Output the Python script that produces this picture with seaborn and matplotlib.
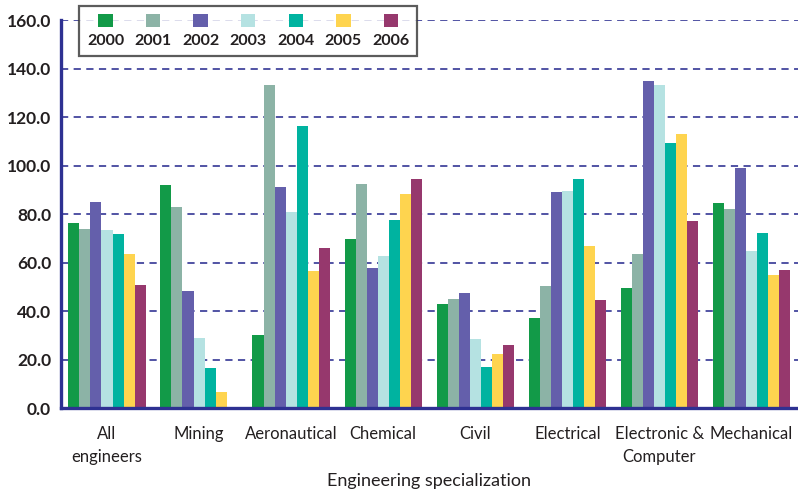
import numpy as np
import pandas as pd
import seaborn as sns
import matplotlib.pyplot as plt
from matplotlib.offsetbox import VPacker
from matplotlib.ticker import FixedLocator

specs = ["All\nengineers", "Mining", "Aeronautical", "Chemical", "Civil",
         "Electrical", "Electronic &\nComputer", "Mechanical"]
years = ["2000", "2001", "2002", "2003", "2004", "2005", "2006"]

# one list per year, in the order of specs
v2000 = [76.5, 92.0, 30.0, 69.7, 42.9, 37.0, 49.5, 84.5]
v2001 = [74.0, 83.0, 133.3, 92.5, 45.0, 50.3, 63.5, 82.0]
v2002 = [85.0, 48.2, 91.3, 57.8, 47.5, 89.0, 135.0, 99.2]
v2003 = [73.5, 29.0, 81.0, 62.8, 28.5, 89.5, 133.2, 64.7]
v2004 = [72.0, 16.5, 116.5, 77.5, 17.0, 94.5, 109.5, 72.2]
v2005 = [63.5, 6.7, 56.5, 88.3, 22.3, 66.8, 113.2, 55.0]
v2006 = [51.0, 0.0, 66.0, 94.6, 26.0, 44.5, 77.2, 57.0]

colors = ["#129a48", "#8cb3a6", "#645fab", "#b5e2e2", "#00b3a0", "#fed44f", "#96386d"]
navy = "#2e3192"

rows = []
for y, vals in zip(years, [v2000, v2001, v2002, v2003, v2004, v2005, v2006]):
    for s, v in zip(specs, vals):
        rows.append({"spec": s, "year": y, "value": v})
df = pd.DataFrame(rows)

sns.set_style("white")
plt.rcParams["font.family"] = ["Lato", "DejaVu Sans"]

fig = plt.figure(figsize=(7.98, 4.93), dpi=100)
ax = fig.add_axes([0.0764, 0.172, 0.923, 0.787])
ax.set_axisbelow(True)

sns.barplot(data=df, x="spec", y="value", hue="year", palette=colors,
            width=0.84, saturation=1, ax=ax, linewidth=0, err_kws={"linewidth": 0})

ax.set_ylim(0, 160)
ax.set_xlim(-0.5, 7.5)
ax.set_yticks(np.arange(0, 161, 20))
ax.set_yticklabels([f"{t:.1f}" for t in np.arange(0, 161, 20)],
                   fontsize=12.5, fontweight="bold", color="#231f20")
ax.tick_params(axis="y", direction="inout", length=8, width=1.5, color=navy, pad=3)
ax.tick_params(axis="x", which="major", length=0, pad=13, labelsize=12, labelcolor="#231f20")
for lbl in ax.get_xticklabels():
    lbl.set_linespacing(1.5)
ax.xaxis.set_minor_locator(FixedLocator(np.arange(-0.5, 8, 1)))
ax.tick_params(axis="x", which="minor", direction="inout", length=10, width=1.2, color=navy)

ax.yaxis.grid(True, linestyle=(0, (4, 3)), color=navy, linewidth=1.3, alpha=0.9)
for sp in ["top", "right"]:
    ax.spines[sp].set_visible(False)
for sp in ["left", "bottom"]:
    ax.spines[sp].set_color(navy)
    ax.spines[sp].set_linewidth(2.4)

ax.set_xlabel("Engineering specialization", fontsize=13, color="#231f20", labelpad=6)
ax.set_ylabel("")

leg = ax.legend(loc="upper left", bbox_to_anchor=(0.099, 0.988),
                bbox_transform=fig.transFigure, ncol=7, frameon=True,
                fancybox=False, handlelength=0.9, handleheight=0.9,
                columnspacing=0.65, borderpad=0.5, borderaxespad=0,
                prop={"weight": "bold", "size": 11.5})
leg.get_frame().set_edgecolor("#333333")
leg.get_frame().set_linewidth(1.6)
for txt in leg.get_texts():
    txt.set_color("#231f20")
# put the colour square above its label
for col in leg._legend_handle_box.get_children():
    kids = col.get_children()
    for i, item in enumerate(kids):
        kids[i] = VPacker(pad=0, sep=5, children=item.get_children(), align="center")

fig.savefig("out.png", dpi=100)
